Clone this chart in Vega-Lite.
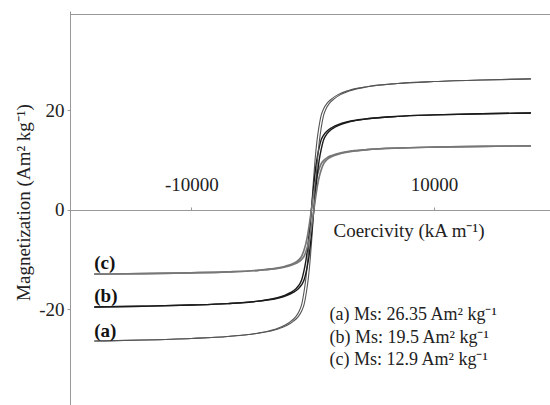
{
  "$schema": "https://vega.github.io/schema/vega-lite/v6.json",
  "autosize": "none",
  "width": 480,
  "height": 394,
  "padding": {"left": 70, "top": 11, "right": 0, "bottom": 0},
  "background": "white",
  "config": {
    "view": {"stroke": null},
    "font": "Liberation Serif",
    "axis": {"labelFont": "Liberation Serif", "titleFont": "Liberation Serif", "labelColor": "#222", "titleColor": "#222", "domainColor": "#999", "tickColor": "#999", "grid": false}
  },
  "datasets": {
    "borderline": [{"left": -20000, "right": 19571, "top": 39.3}],
    "curves": [
      {"br": "down", "H": -18000, "a": -26.35, "b": -19.5, "c": -12.9},
      {"br": "down", "H": -14000, "a": -26.14, "b": -19.34, "c": -12.8},
      {"br": "down", "H": -10000, "a": -25.82, "b": -19.11, "c": -12.64},
      {"br": "down", "H": -7000, "a": -25.43, "b": -18.82, "c": -12.45},
      {"br": "down", "H": -4500, "a": -24.77, "b": -18.33, "c": -12.13},
      {"br": "down", "H": -3100, "a": -23.98, "b": -17.75, "c": -11.74},
      {"br": "down", "H": -2300, "a": -23.19, "b": -17.16, "c": -11.35},
      {"br": "down", "H": -1800, "a": -22.4, "b": -16.58, "c": -10.97},
      {"br": "down", "H": -1400, "a": -21.48, "b": -15.89, "c": -10.51},
      {"br": "down", "H": -1100, "a": -20.29, "b": -15.02, "c": -9.93},
      {"br": "down", "H": -900, "a": -18.97, "b": -14.04, "c": -9.29},
      {"br": "down", "H": -700, "a": -16.34, "b": -12.09, "c": -8.0},
      {"br": "down", "H": -550, "a": -13.7, "b": -10.14, "c": -6.71},
      {"br": "down", "H": -400, "a": -10.01, "b": -7.41, "c": -4.9},
      {"br": "down", "H": -250, "a": -5.27, "b": -3.9, "c": -2.58},
      {"br": "down", "H": -100, "a": 0, "b": 0, "c": 0},
      {"br": "down", "H": 50, "a": 5.27, "b": 3.9, "c": 2.58},
      {"br": "down", "H": 200, "a": 10.01, "b": 7.41, "c": 4.9},
      {"br": "down", "H": 350, "a": 13.7, "b": 10.14, "c": 6.71},
      {"br": "down", "H": 500, "a": 16.34, "b": 12.09, "c": 8.0},
      {"br": "down", "H": 700, "a": 18.97, "b": 14.04, "c": 9.29},
      {"br": "down", "H": 900, "a": 20.29, "b": 15.02, "c": 9.93},
      {"br": "down", "H": 1200, "a": 21.48, "b": 15.89, "c": 10.51},
      {"br": "down", "H": 1600, "a": 22.4, "b": 16.58, "c": 10.97},
      {"br": "down", "H": 2100, "a": 23.19, "b": 17.16, "c": 11.35},
      {"br": "down", "H": 2900, "a": 23.98, "b": 17.75, "c": 11.74},
      {"br": "down", "H": 4500, "a": 24.77, "b": 18.33, "c": 12.13},
      {"br": "down", "H": 7000, "a": 25.43, "b": 18.82, "c": 12.45},
      {"br": "down", "H": 10000, "a": 25.82, "b": 19.11, "c": 12.64},
      {"br": "down", "H": 14000, "a": 26.14, "b": 19.34, "c": 12.8},
      {"br": "down", "H": 18000, "a": 26.35, "b": 19.5, "c": 12.9},
      {"br": "up", "H": -18000, "a": -26.35, "b": -19.5, "c": -12.9},
      {"br": "up", "H": -14000, "a": -26.14, "b": -19.34, "c": -12.8},
      {"br": "up", "H": -10000, "a": -25.82, "b": -19.11, "c": -12.64},
      {"br": "up", "H": -7000, "a": -25.43, "b": -18.82, "c": -12.45},
      {"br": "up", "H": -4500, "a": -24.77, "b": -18.33, "c": -12.13},
      {"br": "up", "H": -2900, "a": -23.98, "b": -17.75, "c": -11.74},
      {"br": "up", "H": -2100, "a": -23.19, "b": -17.16, "c": -11.35},
      {"br": "up", "H": -1600, "a": -22.4, "b": -16.58, "c": -10.97},
      {"br": "up", "H": -1200, "a": -21.48, "b": -15.89, "c": -10.51},
      {"br": "up", "H": -900, "a": -20.29, "b": -15.02, "c": -9.93},
      {"br": "up", "H": -700, "a": -18.97, "b": -14.04, "c": -9.29},
      {"br": "up", "H": -500, "a": -16.34, "b": -12.09, "c": -8.0},
      {"br": "up", "H": -350, "a": -13.7, "b": -10.14, "c": -6.71},
      {"br": "up", "H": -200, "a": -10.01, "b": -7.41, "c": -4.9},
      {"br": "up", "H": -50, "a": -5.27, "b": -3.9, "c": -2.58},
      {"br": "up", "H": 100, "a": 0, "b": 0, "c": 0},
      {"br": "up", "H": 250, "a": 5.27, "b": 3.9, "c": 2.58},
      {"br": "up", "H": 400, "a": 10.01, "b": 7.41, "c": 4.9},
      {"br": "up", "H": 550, "a": 13.7, "b": 10.14, "c": 6.71},
      {"br": "up", "H": 700, "a": 16.34, "b": 12.09, "c": 8.0},
      {"br": "up", "H": 900, "a": 18.97, "b": 14.04, "c": 9.29},
      {"br": "up", "H": 1100, "a": 20.29, "b": 15.02, "c": 9.93},
      {"br": "up", "H": 1400, "a": 21.48, "b": 15.89, "c": 10.51},
      {"br": "up", "H": 1800, "a": 22.4, "b": 16.58, "c": 10.97},
      {"br": "up", "H": 2300, "a": 23.19, "b": 17.16, "c": 11.35},
      {"br": "up", "H": 3100, "a": 23.98, "b": 17.75, "c": 11.74},
      {"br": "up", "H": 4500, "a": 24.77, "b": 18.33, "c": 12.13},
      {"br": "up", "H": 7000, "a": 25.43, "b": 18.82, "c": 12.45},
      {"br": "up", "H": 10000, "a": 25.82, "b": 19.11, "c": 12.64},
      {"br": "up", "H": 14000, "a": 26.14, "b": 19.34, "c": 12.8},
      {"br": "up", "H": 18000, "a": 26.35, "b": 19.5, "c": 12.9}
    ],
    "tags": [
      {"H": -18000, "M": -10.7, "label": "(c)"},
      {"H": -18000, "M": -17.2, "label": "(b)"},
      {"H": -18000, "M": -24.4, "label": "(a)"}
    ],
    "notes": [
      {"H": 1400, "M": -21.2, "label": "(a) Ms: 26.35 Am² kg⁻¹"},
      {"H": 1400, "M": -25.7, "label": "(b) Ms: 19.5 Am² kg⁻¹"},
      {"H": 1400, "M": -30.2, "label": "(c) Ms: 12.9 Am² kg⁻¹"}
    ]
  },
  "layer": [
    {
      "data": {"name": "curves"},
      "transform": [{"fold": ["a", "b", "c"], "as": ["sample", "M"]}],
      "mark": {"type": "line", "interpolate": "monotone", "clip": true},
      "encoding": {
        "x": {
          "field": "H", "type": "quantitative",
          "scale": {"domain": [-20000, 19571], "nice": false, "zero": false},
          "axis": {
            "orient": "top", "offset": -199, "values": [-10000, 10000],
            "labelExpr": "'' + datum.value", "labelFont": "Liberation Serif",
            "tickSize": 3, "labelPadding": 13, "labelFontSize": 19,
            "title": "Coercivity (kA m⁻¹)", "titleFont": "Liberation Serif", "titleFontSize": 19, "titleFontWeight": "normal",
            "titleX": 263, "titleY": 20, "titleAlign": "left", "titleBaseline": "middle",
            "domainColor": "#999"
          }
        },
        "y": {
          "field": "M", "type": "quantitative",
          "scale": {"domain": [-39.2, 40], "nice": false, "zero": false},
          "axis": {
            "values": [-20, 0, 20], "labelExpr": "'' + datum.value", "labelFont": "Liberation Serif",
            "tickSize": 3, "labelPadding": 3, "labelFontSize": 19,
            "title": "Magnetization (Am² kg⁻¹)", "titleFont": "Liberation Serif", "titleFontSize": 19, "titleFontWeight": "normal",
            "titleX": -47, "titleY": 191, "titleAngle": -90, "titleAlign": "center", "titleBaseline": "middle"
          }
        },
        "color": {
          "field": "sample", "type": "nominal",
          "scale": {"domain": ["a", "b", "c"], "range": ["#555555", "#1a1a1a", "#777777"]},
          "legend": null
        },
        "strokeWidth": {
          "field": "sample", "type": "nominal",
          "scale": {"domain": ["a", "b", "c"], "range": [1.1, 1.7, 1.0]},
          "legend": null
        },
        "detail": {"field": "br"}
      }
    },
    {
      "data": {"name": "borderline"},
      "mark": {"type": "rule", "color": "#999999", "strokeWidth": 1.2},
      "encoding": {
        "x": {"field": "left", "type": "quantitative"},
        "x2": {"field": "right"},
        "y": {"field": "top", "type": "quantitative"}
      }
    },
    {
      "data": {"name": "tags"},
      "mark": {"type": "text", "align": "left", "baseline": "middle", "fontSize": 19, "fontWeight": "bold", "font": "Liberation Serif", "color": "#111"},
      "encoding": {
        "x": {"field": "H", "type": "quantitative"},
        "y": {"field": "M", "type": "quantitative"},
        "text": {"field": "label"}
      }
    },
    {
      "data": {"name": "notes"},
      "mark": {"type": "text", "align": "left", "baseline": "middle", "fontSize": 18, "font": "Liberation Serif", "color": "#222"},
      "encoding": {
        "x": {"field": "H", "type": "quantitative"},
        "y": {"field": "M", "type": "quantitative"},
        "text": {"field": "label"}
      }
    }
  ]
}
